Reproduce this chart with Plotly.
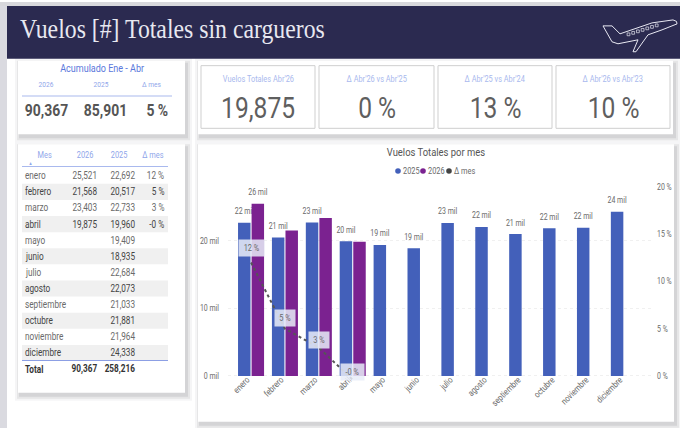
import plotly.graph_objects as go

W, H = 680, 428
months = ["enero","febrero","marzo","abril","mayo","junio","julio","agosto","septiembre","octubre","noviembre","diciembre"]
v2025 = [22692,20517,22733,19960,19409,18935,22684,22073,21033,21881,21964,24338]
v2026 = [25521,21568,23403,19875,None,None,None,None,None,None,None,None]
lab2025 = ["22 mil","21 mil","23 mil","20 mil","19 mil","19 mil","23 mil","22 mil","21 mil","22 mil","22 mil","24 mil"]
lab2026 = ["26 mil","","","","","","","","","","",""]
delta = [0.12,0.05,0.03,-0.004,None,None,None,None,None,None,None,None]
delta_txt = ["12 %","5 %","3 %","-0 %","","","","","","","",""]
total_row = ["Total","90,367","258,216",""]
kpi_labels = ["Vuelos Totales Abr'26","Δ Abr'26 vs Abr'25","Δ Abr'25 vs Abr'24","Δ Abr'26 vs Abr'23"]
kpi_values = ["19,875","0 %","13 %","10 %"]
acc_heads = ["2026","2025","Δ mes"]
acc_values = ["90,367","85,901","5 %"]
tbl_heads = ["Mes","2026","2025","Δ mes"]
legend_names = ["2025","2026","Δ mes"]

BLUE, PURPLE, NAVY = "#4360BA", "#7B2290", "#2B2A50"
HEADC, GREY, DARK = "#8FA6EA", "#6A6A6A", "#444444"
NARROW = "Roboto, sans-serif"
SERIF = "'Liberation Serif', serif"

def px(x): return x / W
# calibrated against the rendered page: picture Y = 3 + 0.99375 * layout y
def py(y): return 1 - ((y - 3) / 0.99375) / H
shapes, notes = [], []

def rect(x0, y0, x1, y1, fill, line=None, lw=1):
    shapes.append(dict(type="rect", xref="paper", yref="paper", layer="below",
                       x0=px(x0), x1=px(x1), y0=py(y0), y1=py(y1), fillcolor=fill,
                       line=dict(color=line or "rgba(0,0,0,0)", width=lw if line else 0)))

def text(x, y, s, size, color, anchor="center", font=NARROW):
    notes.append(dict(xref="paper", yref="paper", x=px(x), y=py(y), text=s, showarrow=False,
                      xanchor=anchor, yanchor="middle", borderpad=0,
                      font=dict(size=size, color=color, family=font)))

def panel(x0, y0, x1, y1):
    for d, a in ((5, .05), (3, .08), (1, .10)):
        rect(x0 - d + 2, y0 - d + 3, x1 + d + 2, y1 + d + 3, f"rgba(60,60,70,{a})")
    rect(x0, y0, x1, y1, "white")

# page background and header
rect(0, 0, 7, H + 5, "#DADAE0")
rect(0, 0, W, 4, "#D8D8DC")
rect(7, 4, W, 57, NAVY)
text(19, 27, "Vuelos [#] Totales sin cargueros", 27, "#E8E8F0", "left", SERIF)

# plane icon
plane = ("M 603 24 L 612 24 L 620 32 L 652 21 L 673 18 Q 678 19 677 22 L 662 28 L 648 33 "
         "L 636 50 L 633 50 L 638 38 L 618 42 L 612 40 Z")
def scale_path(p):
    out, is_x = [], True
    for t in p.split():
        if t.isalpha():
            out.append(t); is_x = True
        else:
            out.append(f"{px(float(t)):.5f}" if is_x else f"{py(float(t)):.5f}")
            is_x = not is_x
    return " ".join(out)
shapes.append(dict(type="path", xref="paper", yref="paper", path=scale_path(plane),
                   line=dict(color="#E8E8F2", width=1), fillcolor="rgba(0,0,0,0)"))
for i in range(7):
    cx, cy = 628.5 + i * 4.7, 32.5 - i * 1.5
    shapes.append(dict(type="rect", xref="paper", yref="paper",
                       x0=px(cx-1.4), x1=px(cx+1.4), y0=py(cy-1.4), y1=py(cy+1.4),
                       line=dict(color="#E8E8F2", width=0.7), fillcolor="rgba(0,0,0,0)"))

# accumulated panel
panel(18, 59, 185, 133)
text(102, 67, "Acumulado Ene - Abr", 11, "#5A78DC")
for x, s in zip((46, 101, 151), acc_heads):
    text(x, 83, s, 8, HEADC)
rect(22, 94, 172, 95, "#A9B9EE")
for x, s in zip((46, 105, 157), acc_values):
    text(x, 109, f"<b>{s}</b>", 17, "#555555")

# KPI panel
panel(198, 59, 673, 133)
for (x0, x1), lab, val in zip(((201, 315), (319, 434), (438, 552), (556, 670)), kpi_labels, kpi_values):
    rect(x0, 64, x1, 127, "white", "#CFCFCF", 1)
    c = (x0 + x1) / 2
    text(c, 77, lab, 9, "#A9B9EE")
    text(c, 106, val, 30, "#5F5F5F")

# table panel
panel(18, 143, 185, 393)
for x, s in zip((45, 85, 119, 153), tbl_heads):
    text(x, 154, s, 9, HEADC)
notes.append(dict(xref="paper", yref="paper", x=px(26), y=py(161.5), text="▲", showarrow=False,
                  font=dict(size=5, color=HEADC)))
rect(22, 165, 168, 166, "#A9B9EE")
step = 16.2
for i, m in enumerate(months):
    y = 174.7 + i * step
    if i % 2 == 1:
        rect(22, y - step / 2, 168, y + step / 2, "#F0F0F0")
    col = DARK if i % 2 else GREY
    text(24, y, m, 10, col, "left")
    if v2026[i] is not None:
        text(98, y, f"{v2026[i]:,}", 10, col, "right")
        text(165, y, delta_txt[i], 10, col, "right")
    text(135.5, y, f"{v2025[i]:,}", 10, col, "right")
rect(22, 360, 168, 361, "#8C9FE4")
ty = 369.5
text(24, ty, f"<b>{total_row[0]}</b>", 10, "#333333", "left")
text(98, ty, f"<b>{total_row[1]}</b>", 10, "#333333", "right")
text(135.5, ty, f"<b>{total_row[2]}</b>", 10, "#333333", "right")

# chart panel
panel(198, 143, 674, 422)
text(436, 151, "Vuelos Totales por mes", 11.5, "#555555")
for name, color, cx in zip(legend_names, (BLUE, PURPLE, "#444444"), (398, 423, 449)):
    shapes.append(dict(type="circle", xref="paper", yref="paper", fillcolor=color, line=dict(width=0),
                       x0=px(cx - 2.8), x1=px(cx + 2.8), y0=py(170 - 2.8), y1=py(170 + 2.8)))
    text(cx + 4, 170, name, 9, GREY, "left")

fig = go.Figure()
bar_font = dict(size=8.5, color=GREY, family=NARROW)
fig.add_bar(x=months, y=v2025, name="2025", marker=dict(color=BLUE, line=dict(width=0)),
            text=lab2025, textposition="outside", cliponaxis=False,
            constraintext="none", textangle=0, textfont=bar_font)
fig.add_bar(x=months, y=v2026, name="2026", marker=dict(color=PURPLE, line=dict(width=0)),
            text=lab2026, textposition="outside", cliponaxis=False,
            constraintext="none", textangle=0, textfont=bar_font)
fig.add_scatter(x=months, y=delta, name="Δ mes", yaxis="y2", mode="lines",
                line=dict(color="#555555", width=2, dash="dot"))

for m, d, t, shift in zip(months, delta, delta_txt, (15, 11, 8, 8)):
    notes.append(dict(xref="x", yref="y2", x=m, y=d, text=t, showarrow=False, yshift=shift,
                      bgcolor="rgba(232,236,248,0.85)", borderpad=3,
                      font=dict(size=9, color=GREY, family=NARROW)))

X0, X1, Y0, Y1 = 228, 652, 186, 380.75
fig.update_layout(
    width=W, height=H, margin=dict(l=0, r=0, t=0, b=0), paper_bgcolor="white", plot_bgcolor="rgba(0,0,0,0)",
    showlegend=False, barmode="group", bargap=0.2, bargroupgap=0.08,
    shapes=shapes, annotations=notes,
    xaxis=dict(domain=[px(X0), px(X1)], range=[-0.68, 11.83], tickangle=-45, showgrid=False, zeroline=False,
               anchor="free", position=py(376), ticks="", showline=False,
               tickfont=dict(size=9, color=GREY, family=NARROW)),
    yaxis=dict(domain=[py(Y1), py(Y0)], range=[-700, 28000], tickvals=[0, 10000, 20000],
               ticktext=["0 mil", "10 mil", "20 mil"], gridcolor="#F0F0F0", griddash="dot", zeroline=False,
               ticklabelstandoff=8, tickfont=dict(size=8.5, color=GREY, family=NARROW)),
    yaxis2=dict(overlaying="y", side="right", range=[-0.005, 0.20], tickvals=[0, .05, .10, .15, .20],
                ticktext=["0 %", "5 %", "10 %", "15 %", "20 %"], showgrid=False, zeroline=False,
                ticklabelstandoff=4, tickfont=dict(size=8.5, color=GREY, family=NARROW)),
)

condense = """
document.body.style.margin='0';
document.body.style.background='#D8D8DC';
var gd = document.querySelector('.js-plotly-plot');
document.querySelectorAll('svg text').forEach(function(el){
  var serif = (el.style.fontFamily||'').indexOf('Serif')>=0;
  var k = serif ? 0.88 : 0.82;
  var w = el.getComputedTextLength();
  if(w<=0) return;
  el.setAttribute('textLength', (w*k).toFixed(2));
  el.setAttribute('lengthAdjust','spacingAndGlyphs');
  var g = el.closest('.annotation');
  if(g){
    var a = gd.layout.annotations[+g.getAttribute('data-index')];
    var dx = a.xanchor==='left' ? -w*(1-k)/2 : a.xanchor==='right' ? w*(1-k)/2 : 0;
    if(dx) el.setAttribute('transform', 'translate('+dx.toFixed(2)+',0)');
  }
});
function nudge(sel, dx, dy){
  document.querySelectorAll(sel).forEach(function(el){
    el.setAttribute('transform', 'translate('+dx+','+dy+') '+(el.getAttribute('transform')||''));
  });
}
nudge('.bartext', 0, -3.5);
nudge('.xtick text', -4, -4);
"""
fig.write_html("out.html", config=dict(displayModeBar=False), post_script=condense)
